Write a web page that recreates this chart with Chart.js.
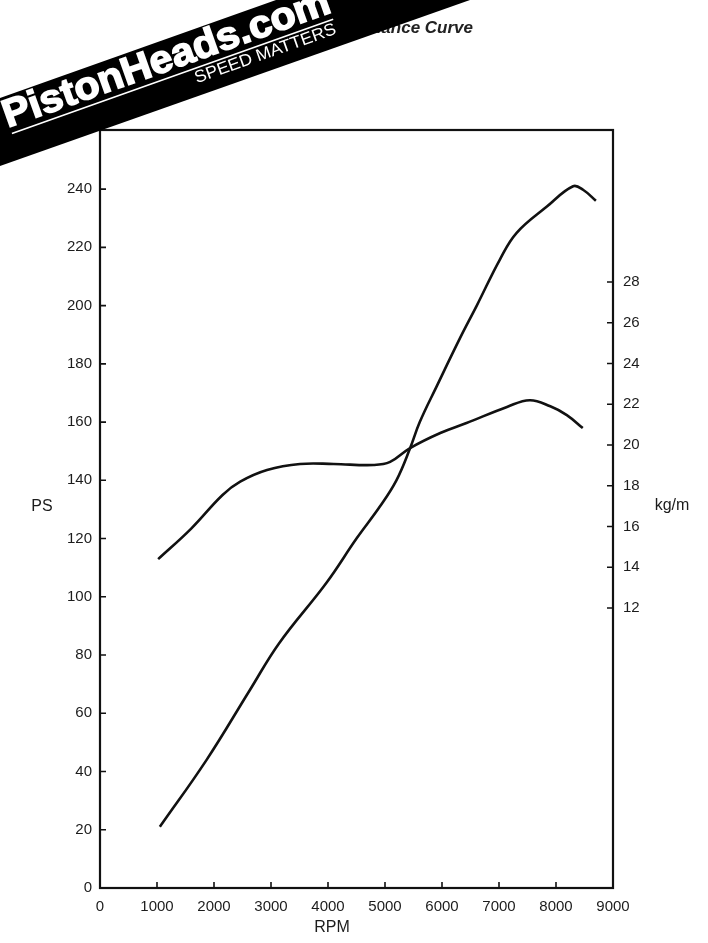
<!DOCTYPE html>
<html>
<head>
<meta charset="utf-8">
<script src="https://cdn.jsdelivr.net/npm/chart.js@4.4.1/dist/chart.umd.min.js"></script>
<style>
  html, body { margin: 0; padding: 0; background: #fff; }
  #chart { display: block; }
</style>
</head>
<body>
<canvas id="chart" width="708" height="943"></canvas>
<script>
// power curve (PS)
var rpmPower = [1050, 1870, 2630, 3140, 3980, 4500, 4910, 5200, 5440, 5610, 5900, 6320, 6610, 7020, 7310, 7840, 8300, 8480, 8700];
var psValues = [21, 44, 68, 84, 105, 120, 131, 140, 151, 160, 172, 189, 200, 216, 225, 234, 241, 239.7, 236];

// torque curve (kg/m)
var rpmTorque = [1020, 1600, 2150, 2460, 2930, 3510, 4100, 4800, 5090, 5440, 5970, 6430, 7140, 7540, 7900, 8190, 8470];
var kgmValues = [14.4, 15.9, 17.55, 18.2, 18.77, 19.07, 19.07, 19.02, 19.17, 19.85, 20.59, 21.08, 21.87, 22.2, 21.9, 21.47, 20.83];

var rpmTicks = [0, 1000, 2000, 3000, 4000, 5000, 6000, 7000, 8000, 9000];
var psTicks = [0, 20, 40, 60, 80, 100, 120, 140, 160, 180, 200, 220, 240];
var kgmTicks = [12, 14, 16, 18, 20, 22, 24, 26, 28];

var FONT = '"Liberation Sans", Arial, sans-serif';
var INK = '#1c1c1c';

function pts(xs, ys) {
  return xs.map(function (x, i) { return { x: x, y: ys[i] }; });
}
function fixTicks(list) {
  return function (axis) { axis.ticks = list.map(function (v) { return { value: v }; }); };
}
function plain(v) { return String(v); }

// frame, inward tick marks and axis titles
var framePlugin = {
  id: 'frame',
  afterDatasetsDraw: function (chart) {
    var ctx = chart.ctx, a = chart.chartArea, s = chart.scales;
    ctx.save();
    ctx.strokeStyle = '#111';
    ctx.lineWidth = 2.2;
    ctx.strokeRect(a.left, a.top, a.right - a.left, a.bottom - a.top);
    ctx.lineWidth = 1.6;
    ctx.beginPath();
    rpmTicks.forEach(function (v) {
      if (v === 0 || v === 9000) return;
      var x = s.x.getPixelForValue(v);
      ctx.moveTo(x, a.bottom); ctx.lineTo(x, a.bottom - 6);
    });
    psTicks.forEach(function (v) {
      if (v === 0) return;
      var y = s.y.getPixelForValue(v);
      ctx.moveTo(a.left, y); ctx.lineTo(a.left + 6, y);
    });
    kgmTicks.forEach(function (v) {
      var y = s.y2.getPixelForValue(v);
      ctx.moveTo(a.right, y); ctx.lineTo(a.right - 6, y);
    });
    ctx.stroke();

    ctx.fillStyle = INK;
    ctx.font = '16px ' + FONT;
    ctx.textAlign = 'center';
    ctx.textBaseline = 'middle';
    ctx.fillText('PS', 42, 507);
    ctx.fillText('kg/m', 672, 506);
    ctx.fillText('RPM', 332, 928);
    ctx.restore();
  },
  afterDraw: function (chart) {
    var ctx = chart.ctx;
    ctx.save();
    // title, partly hidden under the banner
    ctx.fillStyle = '#222';
    ctx.font = 'italic bold 17px ' + FONT;
    ctx.textAlign = 'right';
    ctx.textBaseline = 'alphabetic';
    ctx.fillText('Performance Curve', 473, 33);

    // banner
    ctx.fillStyle = '#000';
    ctx.beginPath();
    ctx.moveTo(0, 98);
    ctx.lineTo(276, 0);
    ctx.lineTo(470, 0);
    ctx.lineTo(0, 166);
    ctx.closePath();
    ctx.fill();

    var th = Math.atan(0.356);
    ctx.translate(0, 165.6);
    ctx.rotate(-th);
    ctx.fillStyle = '#fff';
    ctx.strokeStyle = '#fff';

    ctx.font = 'bold 39px ' + FONT;
    ctx.textAlign = 'left';
    var w = ctx.measureText('PistonHeads.com').width;
    ctx.save();
    ctx.translate(20, -33);
    ctx.scale(345 / w, 1);
    ctx.lineWidth = 1.6;
    ctx.fillText('PistonHeads.com', 0, 0);
    ctx.strokeText('PistonHeads.com', 0, 0);
    ctx.restore();

    ctx.fillRect(22, -27, 341, 1.6);

    ctx.font = '17px ' + FONT;
    var w2 = ctx.measureText('SPEED MATTERS').width;
    ctx.save();
    ctx.translate(213, -11.5);
    ctx.scale(149 / w2, 1);
    ctx.fillText('SPEED MATTERS', 0, 0);
    ctx.restore();
    ctx.restore();
  }
};

var tickFont = { family: FONT, size: 15 };

var config = {
  type: 'line',
  data: {
    datasets: [
      {
        label: 'PS',
        data: pts(rpmPower, psValues),
        yAxisID: 'y',
        borderColor: '#111',
        borderWidth: 2.6,
        pointRadius: 0,
        tension: 0.4,
        fill: false
      },
      {
        label: 'kg/m',
        data: pts(rpmTorque, kgmValues),
        yAxisID: 'y2',
        borderColor: '#111',
        borderWidth: 2.6,
        pointRadius: 0,
        tension: 0.4,
        fill: false
      }
    ]
  },
  options: {
    responsive: false,
    animation: false,
    devicePixelRatio: 1,
    layout: { padding: { top: 130, left: 0, right: 0, bottom: 0 } },
    plugins: {
      legend: { display: false },
      tooltip: { enabled: false },
      title: { display: false }
    },
    scales: {
      x: {
        type: 'linear',
        min: 0,
        max: 9000,
        afterBuildTicks: fixTicks(rpmTicks),
        afterFit: function (s) { s.height = 55; },
        grid: { display: false, drawTicks: false },
        border: { display: false },
        ticks: { font: tickFont, color: INK, padding: 10, maxRotation: 0, autoSkip: false, callback: plain }
      },
      y: {
        type: 'linear',
        position: 'left',
        min: 0,
        max: 260.3,
        afterBuildTicks: fixTicks(psTicks),
        afterFit: function (s) { s.width = 100; },
        grid: { display: false, drawTicks: false },
        border: { display: false },
        ticks: { font: tickFont, color: INK, padding: 8, autoSkip: false, callback: plain }
      },
      y2: {
        type: 'linear',
        position: 'right',
        min: -1.74,
        max: 35.46,
        afterBuildTicks: fixTicks(kgmTicks),
        afterFit: function (s) { s.width = 95; },
        grid: { display: false, drawTicks: false },
        border: { display: false },
        ticks: { font: tickFont, color: INK, padding: 10, autoSkip: false, callback: plain }
      }
    }
  },
  plugins: [framePlugin]
};

var canvas = document.getElementById('chart');
var chart = new Chart(canvas, config);
</script>
</body>
</html>
